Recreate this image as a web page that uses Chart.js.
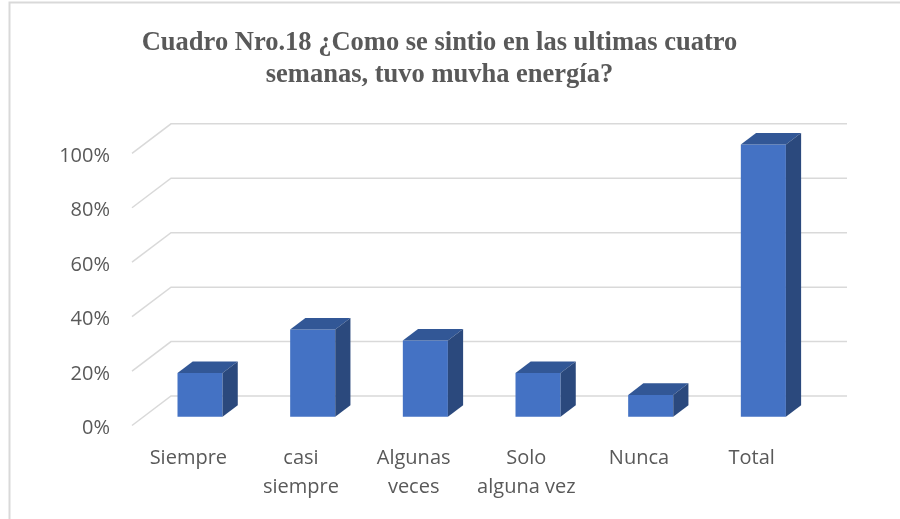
<!DOCTYPE html>
<html>
<head>
<meta charset="utf-8">
<script src="https://cdn.jsdelivr.net/npm/chart.js@4/dist/chart.umd.min.js"></script>
<style>
  html, body { margin: 0; padding: 0; background: #ffffff; }
  #wrap { position: relative; width: 900px; height: 519px; }
</style>
</head>
<body>
<div id="wrap"><canvas id="c" width="900" height="519"></canvas></div>
<script>
// ---- data ----
const categories = ['Siempre', ['casi', 'siempre'], ['Algunas', 'veces'], ['Solo', 'alguna vez'], 'Nunca', 'Total'];
const values = [0.16, 0.32, 0.28, 0.16, 0.08, 1.00];
const yTicks = [0, 0.2, 0.4, 0.6, 0.8, 1.0];
const titleLines = ['Cuadro Nro.18 ¿Como se sintio en las ultimas cuatro', 'semanas, tuvo muvha energía?'];

// ---- 3D styling ----
const WALL_DX = 39, WALL_DY = -29.5;      // floor depth offset (front -> back wall)
const FRONT_F = 0.30;                     // bar front plane depth fraction
const DEPTH_F = 0.39;                     // bar depth fraction
const GRID_COLOR = '#D9D9D9';
const FRONT_COLOR = '#4472C4', TOP_COLOR = '#325796', SIDE_COLOR = '#2B497D';

const frame = {
  id: 'frame',
  beforeDraw(chart) {
    const ctx = chart.ctx;
    ctx.save();
    ctx.fillStyle = '#ffffff';
    ctx.fillRect(0, 0, chart.width, chart.height);
    ctx.strokeStyle = '#D9D9D9';
    ctx.lineWidth = 2;
    ctx.beginPath();
    ctx.moveTo(9.5, chart.height);
    ctx.lineTo(9.5, 2.5);
    ctx.lineTo(chart.width, 2.5);
    ctx.stroke();
    ctx.restore();
  }
};

const wall = {
  id: 'wall',
  beforeDatasetsDraw(chart) {
    const ctx = chart.ctx, y = chart.scales.y, a = chart.chartArea;
    ctx.save();
    ctx.strokeStyle = GRID_COLOR;
    ctx.lineWidth = 1.5;
    yTicks.forEach(v => {
      const py = y.getPixelForValue(v);
      ctx.beginPath();
      ctx.moveTo(a.left, py);
      ctx.lineTo(a.left + WALL_DX, py + WALL_DY);
      ctx.lineTo(a.right + WALL_DX, py + WALL_DY);
      ctx.stroke();
    });
    ctx.restore();
  },
  beforeDatasetDraw(chart) {
    chart.ctx.save();
    chart.ctx.translate(WALL_DX * FRONT_F, WALL_DY * FRONT_F);
  },
  afterDatasetDraw(chart) {
    chart.ctx.restore();
  },
  afterDatasetsDraw(chart) {
    const ctx = chart.ctx;
    const tx = WALL_DX * FRONT_F, ty = WALL_DY * FRONT_F;
    const bdx = WALL_DX * DEPTH_F, bdy = WALL_DY * DEPTH_F;
    const meta = chart.getDatasetMeta(0);
    ctx.save();
    meta.data.forEach(el => {
      const p = el.getProps(['x', 'y', 'base', 'width'], true);
      const l = p.x - p.width / 2 + tx, r = p.x + p.width / 2 + tx;
      const t = p.y + ty, b = p.base + ty;
      // top face
      ctx.fillStyle = TOP_COLOR;
      ctx.beginPath();
      ctx.moveTo(l, t); ctx.lineTo(r, t); ctx.lineTo(r + bdx, t + bdy); ctx.lineTo(l + bdx, t + bdy);
      ctx.closePath(); ctx.fill();
      // side face
      ctx.fillStyle = SIDE_COLOR;
      ctx.beginPath();
      ctx.moveTo(r, t); ctx.lineTo(r + bdx, t + bdy); ctx.lineTo(r + bdx, b + bdy); ctx.lineTo(r, b);
      ctx.closePath(); ctx.fill();
    });
    ctx.restore();
  }
};

new Chart(document.getElementById('c'), {
  type: 'bar',
  data: {
    labels: categories,
    datasets: [{
      data: values,
      backgroundColor: FRONT_COLOR,
      borderWidth: 0,
      categoryPercentage: 1,
      barPercentage: 0.4,
      clip: false
    }]
  },
  options: {
    responsive: false,
    animation: false,
    devicePixelRatio: 1,
    layout: { padding: { left: 0, right: 21, top: 0, bottom: 0 } },
    plugins: {
      legend: { display: false },
      tooltip: { enabled: false },
      title: {
        display: true,
        text: titleLines,
        color: '#595959',
        font: { family: 'Liberation Serif', size: 26.5, weight: 'bold', lineHeight: 1.18 },
        padding: { top: 28, bottom: 62.8 }
      }
    },
    scales: {
      x: {
        grid: { display: false, drawTicks: false },
        border: { display: false },
        ticks: {
          color: '#595959',
          font: { family: 'Open Sans', size: 20, lineHeight: 1.45 },
          padding: 18,
          maxRotation: 0,
          autoSkip: false
        },
        afterFit(s) { s.height = 93.5; }
      },
      y: {
        min: 0, max: 1,
        grid: { display: false, drawTicks: false },
        border: { display: false },
        ticks: {
          stepSize: 0.2,
          color: '#595959',
          font: { family: 'Open Sans', size: 20 },
          padding: 22,
          labelOffset: 3,
          callback: v => Math.round(v * 100) + '%'
        },
        afterFit(s) { s.width = 132; }
      },
      yRight: {
        position: 'right',
        min: 0, max: 1,
        grid: { display: false, drawTicks: false },
        border: { display: false },
        ticks: { display: false },
        afterFit(s) { s.width = 71; }
      }
    }
  },
  plugins: [frame, wall]
});
</script>
</body>
</html>
